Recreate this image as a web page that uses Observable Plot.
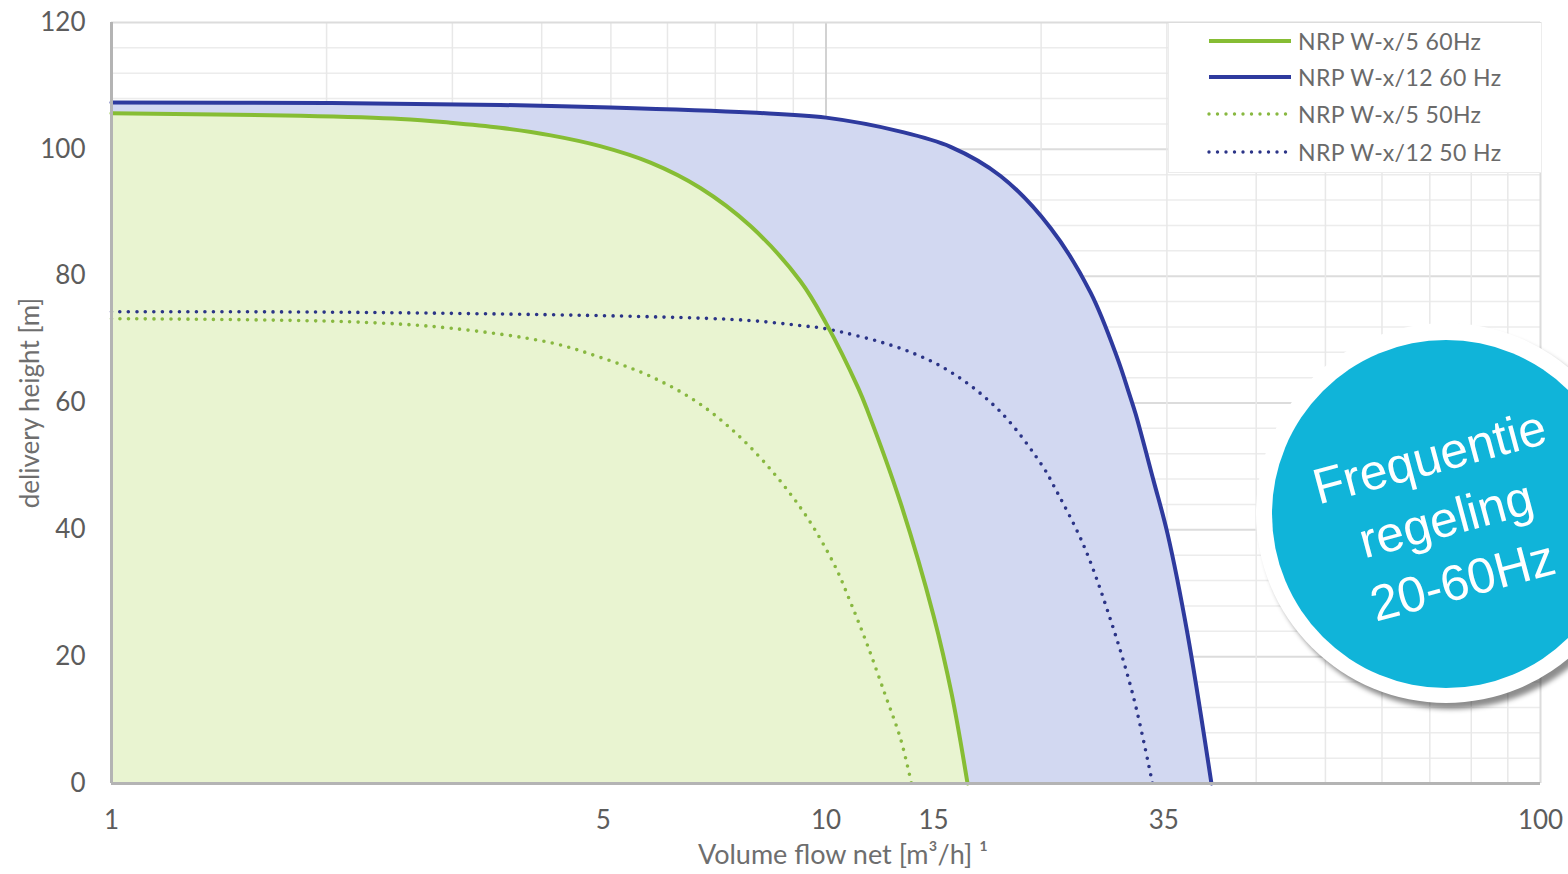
<!DOCTYPE html>
<html>
<head>
<meta charset="utf-8">
<script src="https://cdn.jsdelivr.net/npm/d3@7"></script>
<script src="https://cdn.jsdelivr.net/npm/@observablehq/plot@0.6"></script>
<style>
  html, body { margin: 0; padding: 0; background: #fff; overflow: hidden; }
  #wrap { position: relative; width: 1568px; height: 874px; overflow: hidden; background: #fff; }
  #wrap > svg { position: absolute; left: 0; top: 0; }
  #legend { position: absolute; left: 1168px; top: 23px; width: 372px; height: 149px; background: #fff;
            border-left: 1px solid #ececec; border-bottom: 1px solid #ececec; font-family: Lato, sans-serif; }
  .lrow { position: absolute; height: 30px; display: flex; align-items: center; }
  .lrow svg { display: block; flex: none; }
  .lrow span { font-size: 23px; color: #6a6a6a; margin-left: 5px; white-space: nowrap; letter-spacing: 0.4px; }
  #badge { position: absolute; left: 1256px; top: 323px; width: 380px; height: 380px; border-radius: 50%;
           background: #fff; box-shadow: 5px 6px 5px rgba(0,0,0,0.45); }
  #badge .inner { position: absolute; left: 16px; top: 17px; width: 348px; height: 348px; border-radius: 50%; background: #10b4d9; }
  #badge .txt { position: absolute; left: 0px; top: 6px; width: 380px; height: 380px; display: flex; align-items: center;
                justify-content: center; transform: rotate(-15deg); color: #fff; font-family: "Liberation Sans", Arial, sans-serif;
                font-size: 50px; line-height: 64px; text-align: center; }
</style>
</head>
<body>
<div id="wrap"></div>
<script>
// ---- data (flow m3/h, delivery height m) ----
const seriesNames = ["NRP W-x/5 60Hz", "NRP W-x/12 60 Hz", "NRP W-x/5 50Hz", "NRP W-x/12 50 Hz"];
const seriesColors = ["#86bd34", "#2e3a9e", "#88b840", "#2b3487"];

const w5_60 = [[1,105.7],[1.84,105.3],[2.54,104.8],[2.98,104.2],[3.5,103.4],[4.12,102.2],[4.83,100.5],[5.68,97.9],[6.67,93.9],[7.84,87.9],[9.21,79.2],[10,72.6],[11.1,62.3],[11.43,58.8],[12.72,44.2],[14.14,26.5],[15.0,14.0],[15.78,0]];
const w12_60 = [[1,107.4],[2,107.3],[3.5,107.0],[5,106.6],[7.84,105.8],[10,105.0],[12.72,102.8],[14.94,100.4],[17.55,95.8],[20.62,87.6],[23.46,77.4],[25.59,67.0],[26.51,61.8],[27.12,58.3],[28.73,47.8],[30.06,39.4],[32.06,23.6],[34.63,0]];
const w5_50 = [[1,73.3],[2.16,72.8],[2.98,71.8],[4.12,69.5],[4.83,67.2],[5.68,64.2],[6.67,59.8],[7.84,53.0],[9.21,43.5],[10.24,34.8],[10.82,28.6],[11.43,21.8],[12.1,14.0],[12.72,7.0],[13.17,0]];
const w12_50 = [[1,74.4],[2.16,74.3],[5.68,73.6],[7.84,73.0],[9.21,72.2],[10,71.7],[12.72,68.6],[14.94,64.9],[17.55,58.6],[20.16,49.8],[20.82,47.0],[22.93,37.6],[25.02,25.8],[26.94,13.6],[28.64,0]];

// tick labels as placed in the source figure
const xTickPos = [1, 4.88, 10, 14.14, 29.7, 100];
const xTickLabels = ["1", "5", "10", "15", "35", "100"];
const yTicks = [0, 20, 40, 60, 80, 100, 120];
const xMinorGrid = [2,3,4,5,6,7,8,9,20,30,40,50,60,70,80,90];
const xMajorGrid = [10];
const yMinorGrid = [4,8,12,16,24,28,32,36,44,48,52,56,64,68,72,76,84,88,92,96,104,108,112,116];
const yMajorGrid = [20,40,60,80,100];

const toObj = a => a.map(([x, y]) => ({x, y}));
const d5_60 = toObj(w5_60), d12_60 = toObj(w12_60), d5_50 = toObj(w5_50), d12_50 = toObj(w12_50);
const tickLabel = new Map(xTickPos.map((v, i) => [v, xTickLabels[i]]));
const curve = "catmull-rom";

const chart = Plot.plot({
  width: 1568,
  height: 874,
  marginLeft: 111,
  marginRight: 28,
  marginTop: 22,
  marginBottom: 91,
  style: { fontFamily: "Lato, sans-serif", fontSize: "26px", color: "#5c5c5c", background: "transparent", overflow: "visible" },
  x: { type: "log", domain: [1, 100] },
  y: { domain: [0, 120] },
  marks: [
    Plot.ruleY(yMinorGrid, { stroke: "#ececec", strokeWidth: 1.5 }),
    Plot.ruleY(yMajorGrid, { stroke: "#dcdcdc", strokeWidth: 2 }),
    Plot.ruleX(xMinorGrid, { stroke: "#e8e8e8", strokeWidth: 1.5 }),
    Plot.ruleX(xMajorGrid, { stroke: "#d2d2d2", strokeWidth: 2 }),
    Plot.ruleY([120], { stroke: "#dcdcdc", strokeWidth: 2 }),
    Plot.ruleX([100], { stroke: "#dcdcdc", strokeWidth: 2 }),
    Plot.areaY(d12_60, { x: "x", y: "y", fill: "#d2d8f1", curve }),
    Plot.areaY(d5_60, { x: "x", y: "y", fill: "#e9f4d1", curve }),
    Plot.line(d5_50, { x: "x", y: "y", stroke: seriesColors[2], strokeWidth: 3.6, strokeDasharray: "0,8.5", strokeLinecap: "round", curve }),
    Plot.line(d12_50, { x: "x", y: "y", stroke: seriesColors[3], strokeWidth: 3.6, strokeDasharray: "0,8.5", strokeLinecap: "round", curve }),
    Plot.line(d12_60, { x: "x", y: "y", stroke: seriesColors[1], strokeWidth: 4, curve }),
    Plot.line(d5_60, { x: "x", y: "y", stroke: seriesColors[0], strokeWidth: 4, curve }),
    Plot.ruleX([1], { stroke: "#b4b4b4", strokeWidth: 3 }),
    Plot.ruleY([0], { stroke: "#b4b4b4", strokeWidth: 3 }),
    Plot.axisX(xTickPos, { tickSize: 0, tickPadding: 27, tickFormat: d => tickLabel.get(d), label: null }),
    Plot.axisY(yTicks, { tickSize: 0, tickPadding: 26, label: null }),
    Plot.text(["Volume flow net [m³/h] ¹"], { frameAnchor: "bottom", dx: 17, dy: 80, fontSize: 27, fill: "#6e6e6e" }),
    Plot.text(["delivery height [m]"], { frameAnchor: "left", textAnchor: "middle", rotate: -90, dx: -81, fontSize: 26, fill: "#6e6e6e" })
  ]
});

const wrap = document.getElementById("wrap");
wrap.appendChild(chart);

// legend
const legend = document.createElement("div");
legend.id = "legend";
const rowsY = [18, 54, 91, 129];
const dashed = [false, false, true, true];
seriesNames.forEach((name, i) => {
  const row = document.createElement("div");
  row.className = "lrow";
  row.style.top = (rowsY[i] - 15) + "px";
  row.style.left = "38px";
  const sw = d3.create("svg").attr("width", 86).attr("height", 10);
  sw.append("line").attr("x1", 2).attr("x2", 84).attr("y1", 5).attr("y2", 5)
    .attr("stroke", seriesColors[i]).attr("stroke-width", dashed[i] ? 3.4 : 4)
    .attr("stroke-linecap", dashed[i] ? "round" : "butt")
    .attr("stroke-dasharray", dashed[i] ? "0,8.5" : null);
  row.appendChild(sw.node());
  const sp = document.createElement("span");
  sp.textContent = name;
  row.appendChild(sp);
  legend.appendChild(row);
});
wrap.appendChild(legend);

// badge
const badge = document.createElement("div");
badge.id = "badge";
badge.innerHTML = '<div class="inner"></div><div class="txt">Frequentie<br>regeling<br>20-60Hz</div>';
wrap.appendChild(badge);
</script>
</body>
</html>
